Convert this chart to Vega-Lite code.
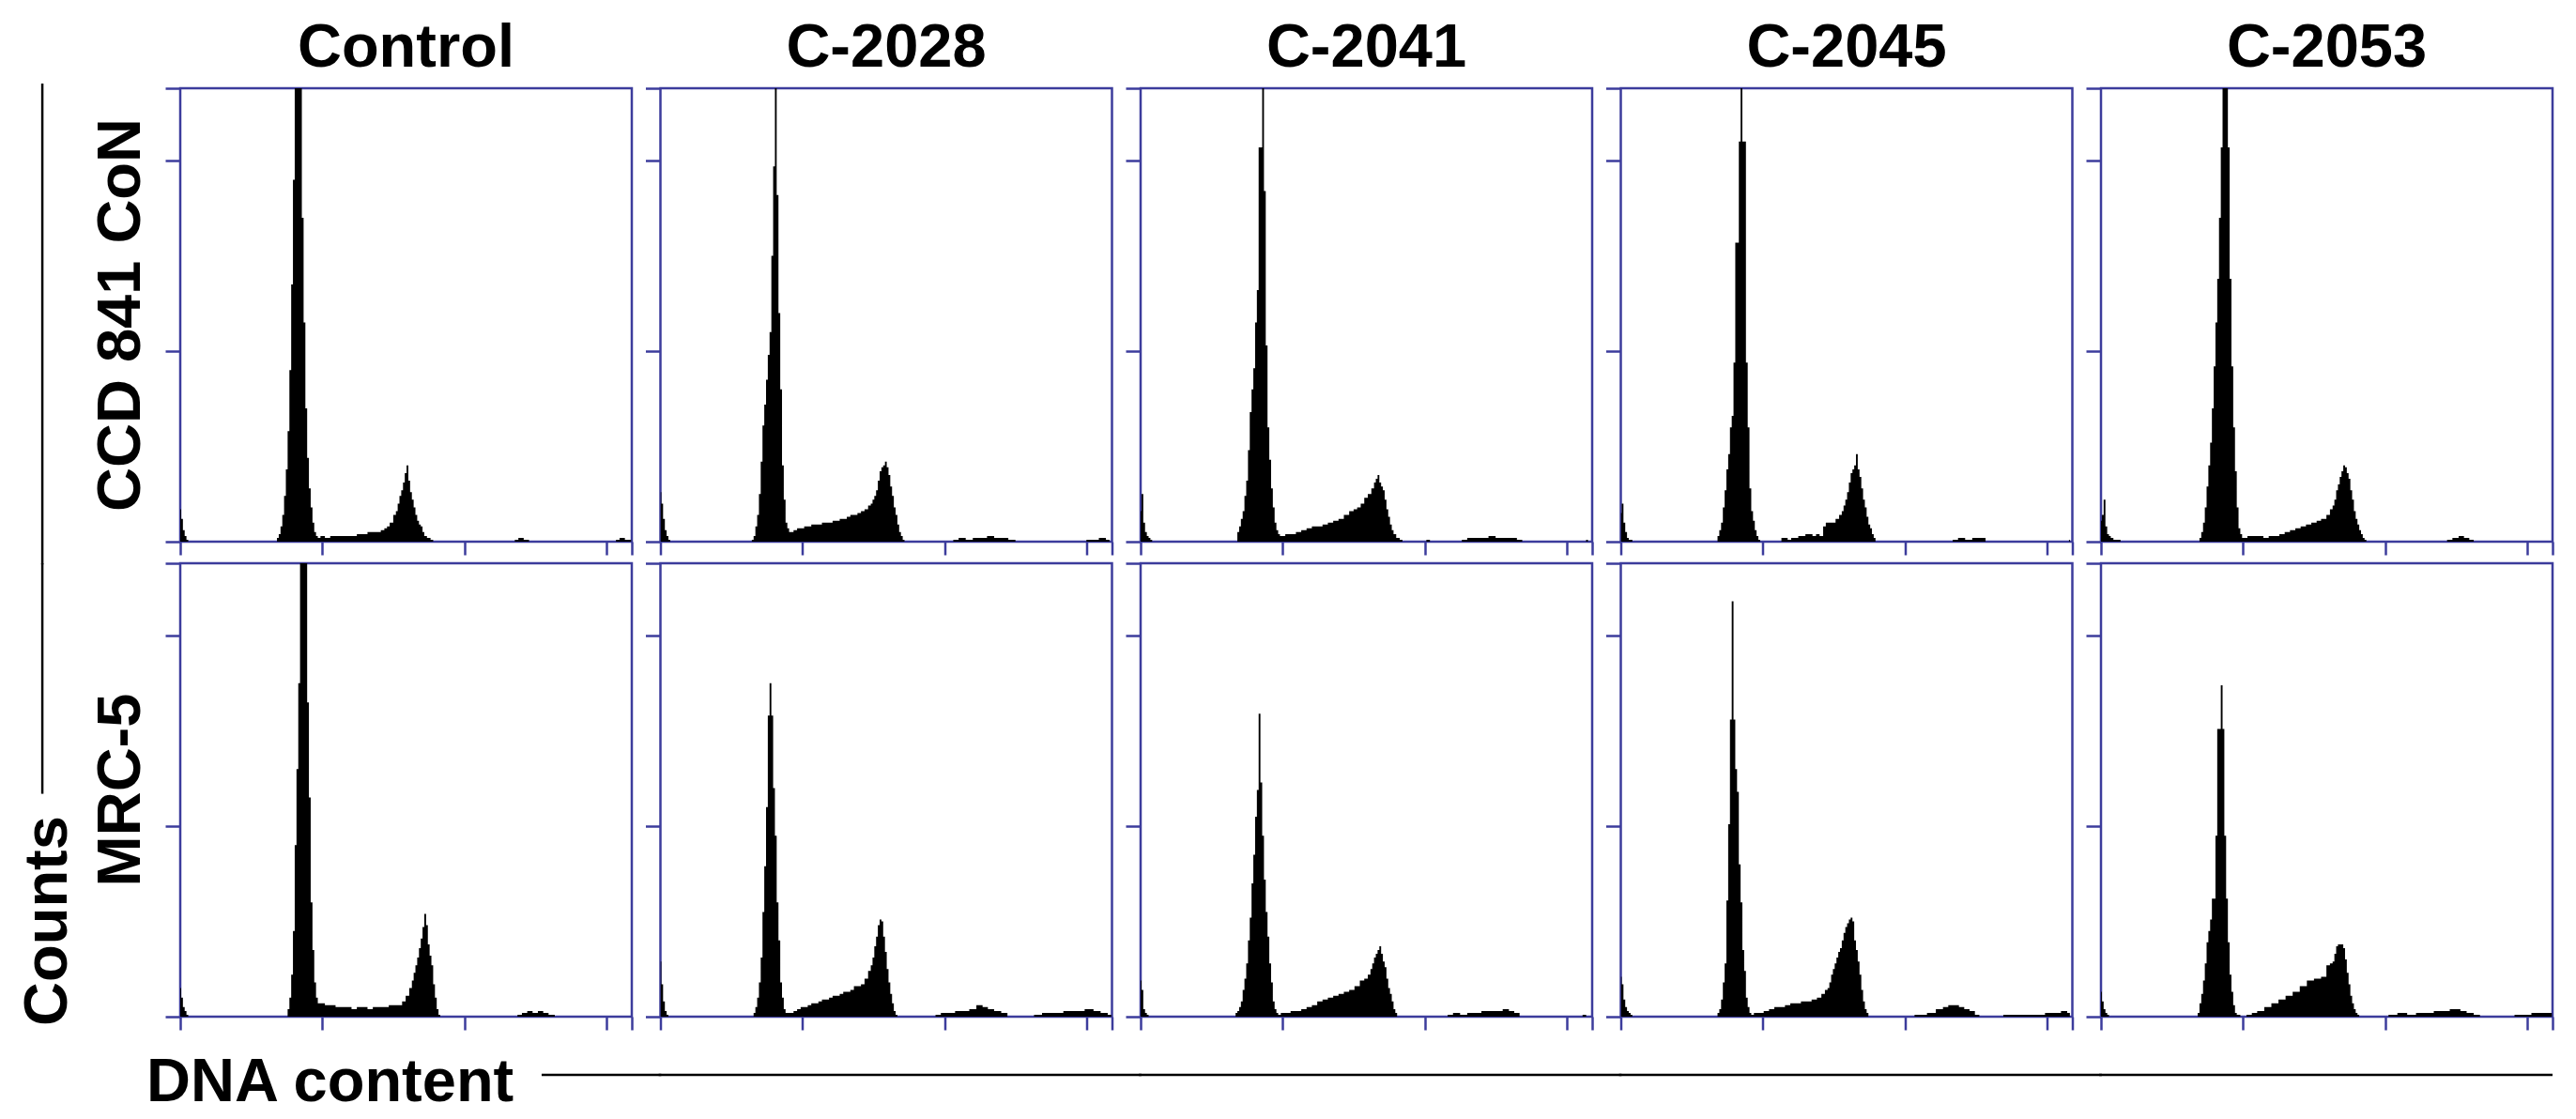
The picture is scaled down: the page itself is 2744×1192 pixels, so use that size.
{
"$schema":"https://vega.github.io/schema/vega-lite/v6.json",
"background":"white",
"padding":{"left":17,"top":19,"right":0,"bottom":0},
"autosize":{"type":"pad"},
"data":{"values":[
{"r":"C","c":"Control","x":0,"y":17},{"r":"C","c":"Control","x":1,"y":12},{"r":"C","c":"Control","x":2,"y":6},{"r":"C","c":"Control","x":3,"y":3},{"r":"C","c":"Control","x":4,"y":1},{"r":"C","c":"Control","x":5,"y":0},
{"r":"C","c":"Control","x":54,"y":0},{"r":"C","c":"Control","x":55,"y":2},{"r":"C","c":"Control","x":56,"y":4},{"r":"C","c":"Control","x":57,"y":8},{"r":"C","c":"Control","x":58,"y":14},{"r":"C","c":"Control","x":59,"y":24},{"r":"C","c":"Control","x":60,"y":38},{"r":"C","c":"Control","x":61,"y":58},{"r":"C","c":"Control","x":62,"y":90},{"r":"C","c":"Control","x":63,"y":135},{"r":"C","c":"Control","x":64,"y":190},{"r":"C","c":"Control","x":65,"y":260},{"r":"C","c":"Control","x":66,"y":320},{"r":"C","c":"Control","x":67,"y":320},{"r":"C","c":"Control","x":68,"y":250},{"r":"C","c":"Control","x":69,"y":170},{"r":"C","c":"Control","x":70,"y":115},{"r":"C","c":"Control","x":71,"y":70},{"r":"C","c":"Control","x":72,"y":44},{"r":"C","c":"Control","x":73,"y":28},{"r":"C","c":"Control","x":74,"y":18},{"r":"C","c":"Control","x":75,"y":10},{"r":"C","c":"Control","x":76,"y":5},{"r":"C","c":"Control","x":77,"y":3},
{"r":"C","c":"Control","x":78,"y":2},{"r":"C","c":"Control","x":80,"y":3},{"r":"C","c":"Control","x":83,"y":2},{"r":"C","c":"Control","x":86,"y":3},{"r":"C","c":"Control","x":89,"y":3},{"r":"C","c":"Control","x":92,"y":3},{"r":"C","c":"Control","x":95,"y":3},{"r":"C","c":"Control","x":98,"y":3},{"r":"C","c":"Control","x":101,"y":4},{"r":"C","c":"Control","x":104,"y":4},{"r":"C","c":"Control","x":107,"y":5},{"r":"C","c":"Control","x":110,"y":5},
{"r":"C","c":"Control","x":112,"y":5},{"r":"C","c":"Control","x":114,"y":6},{"r":"C","c":"Control","x":116,"y":7},{"r":"C","c":"Control","x":117,"y":8},{"r":"C","c":"Control","x":119,"y":10},{"r":"C","c":"Control","x":121,"y":14},{"r":"C","c":"Control","x":122,"y":16},{"r":"C","c":"Control","x":123,"y":20},{"r":"C","c":"Control","x":124,"y":24},{"r":"C","c":"Control","x":125,"y":27},{"r":"C","c":"Control","x":126,"y":31},{"r":"C","c":"Control","x":127,"y":36},{"r":"C","c":"Control","x":128,"y":40},{"r":"C","c":"Control","x":129,"y":32},{"r":"C","c":"Control","x":130,"y":26},{"r":"C","c":"Control","x":131,"y":22},{"r":"C","c":"Control","x":132,"y":18},{"r":"C","c":"Control","x":133,"y":14},{"r":"C","c":"Control","x":134,"y":11},{"r":"C","c":"Control","x":135,"y":9},{"r":"C","c":"Control","x":136,"y":8},{"r":"C","c":"Control","x":137,"y":5},{"r":"C","c":"Control","x":138,"y":3},{"r":"C","c":"Control","x":140,"y":2},{"r":"C","c":"Control","x":142,"y":1},{"r":"C","c":"Control","x":143,"y":0},
{"r":"C","c":"Control","x":188,"y":0},{"r":"C","c":"Control","x":189,"y":1},{"r":"C","c":"Control","x":192,"y":2},{"r":"C","c":"Control","x":195,"y":1},{"r":"C","c":"Control","x":198,"y":0},
{"r":"C","c":"Control","x":245,"y":0},{"r":"C","c":"Control","x":246,"y":1},{"r":"C","c":"Control","x":249,"y":2},{"r":"C","c":"Control","x":252,"y":1},{"r":"C","c":"Control","x":254,"y":1},

{"r":"M","c":"Control","x":0,"y":15},{"r":"M","c":"Control","x":1,"y":10},{"r":"M","c":"Control","x":2,"y":5},{"r":"M","c":"Control","x":3,"y":3},{"r":"M","c":"Control","x":4,"y":1},{"r":"M","c":"Control","x":5,"y":0},
{"r":"M","c":"Control","x":60,"y":0},{"r":"M","c":"Control","x":61,"y":4},{"r":"M","c":"Control","x":62,"y":10},{"r":"M","c":"Control","x":63,"y":22},{"r":"M","c":"Control","x":64,"y":45},{"r":"M","c":"Control","x":65,"y":90},{"r":"M","c":"Control","x":66,"y":130},{"r":"M","c":"Control","x":67,"y":175},{"r":"M","c":"Control","x":68,"y":240},{"r":"M","c":"Control","x":69,"y":300},{"r":"M","c":"Control","x":70,"y":300},{"r":"M","c":"Control","x":71,"y":240},{"r":"M","c":"Control","x":72,"y":165},{"r":"M","c":"Control","x":73,"y":115},{"r":"M","c":"Control","x":74,"y":60},{"r":"M","c":"Control","x":75,"y":35},{"r":"M","c":"Control","x":76,"y":18},{"r":"M","c":"Control","x":77,"y":10},{"r":"M","c":"Control","x":78,"y":7},
{"r":"M","c":"Control","x":80,"y":7},{"r":"M","c":"Control","x":83,"y":6},{"r":"M","c":"Control","x":86,"y":6},{"r":"M","c":"Control","x":89,"y":5},{"r":"M","c":"Control","x":92,"y":5},{"r":"M","c":"Control","x":95,"y":5},{"r":"M","c":"Control","x":98,"y":4},{"r":"M","c":"Control","x":101,"y":5},{"r":"M","c":"Control","x":104,"y":5},{"r":"M","c":"Control","x":107,"y":4},{"r":"M","c":"Control","x":110,"y":5},{"r":"M","c":"Control","x":113,"y":5},{"r":"M","c":"Control","x":116,"y":5},{"r":"M","c":"Control","x":119,"y":6},{"r":"M","c":"Control","x":122,"y":6},
{"r":"M","c":"Control","x":124,"y":6},{"r":"M","c":"Control","x":126,"y":8},{"r":"M","c":"Control","x":128,"y":11},{"r":"M","c":"Control","x":130,"y":15},{"r":"M","c":"Control","x":131,"y":19},{"r":"M","c":"Control","x":132,"y":23},{"r":"M","c":"Control","x":133,"y":27},{"r":"M","c":"Control","x":134,"y":31},{"r":"M","c":"Control","x":135,"y":36},{"r":"M","c":"Control","x":136,"y":41},{"r":"M","c":"Control","x":137,"y":47},{"r":"M","c":"Control","x":138,"y":54},{"r":"M","c":"Control","x":139,"y":48},{"r":"M","c":"Control","x":140,"y":38},{"r":"M","c":"Control","x":141,"y":32},{"r":"M","c":"Control","x":142,"y":27},{"r":"M","c":"Control","x":143,"y":17},{"r":"M","c":"Control","x":144,"y":10},{"r":"M","c":"Control","x":145,"y":4},{"r":"M","c":"Control","x":146,"y":1},{"r":"M","c":"Control","x":147,"y":0},
{"r":"M","c":"Control","x":189,"y":0},{"r":"M","c":"Control","x":191,"y":1},{"r":"M","c":"Control","x":194,"y":2},{"r":"M","c":"Control","x":197,"y":3},{"r":"M","c":"Control","x":200,"y":2},{"r":"M","c":"Control","x":203,"y":3},{"r":"M","c":"Control","x":206,"y":2},{"r":"M","c":"Control","x":209,"y":1},{"r":"M","c":"Control","x":213,"y":0},

{"r":"C","c":"C-2028","x":0,"y":26},{"r":"C","c":"C-2028","x":1,"y":20},{"r":"C","c":"C-2028","x":2,"y":12},{"r":"C","c":"C-2028","x":3,"y":6},{"r":"C","c":"C-2028","x":4,"y":3},{"r":"C","c":"C-2028","x":5,"y":1},{"r":"C","c":"C-2028","x":6,"y":0},
{"r":"C","c":"C-2028","x":51,"y":0},{"r":"C","c":"C-2028","x":52,"y":1},{"r":"C","c":"C-2028","x":53,"y":3},{"r":"C","c":"C-2028","x":54,"y":8},{"r":"C","c":"C-2028","x":55,"y":14},{"r":"C","c":"C-2028","x":56,"y":25},{"r":"C","c":"C-2028","x":57,"y":42},{"r":"C","c":"C-2028","x":58,"y":61},{"r":"C","c":"C-2028","x":59,"y":72},{"r":"C","c":"C-2028","x":60,"y":85},{"r":"C","c":"C-2028","x":61,"y":98},{"r":"C","c":"C-2028","x":62,"y":110},{"r":"C","c":"C-2028","x":63,"y":150},{"r":"C","c":"C-2028","x":64,"y":197},{"r":"C","c":"C-2028","x":65,"y":300},{"r":"C","c":"C-2028","x":66,"y":182},{"r":"C","c":"C-2028","x":67,"y":120},{"r":"C","c":"C-2028","x":68,"y":80},{"r":"C","c":"C-2028","x":69,"y":40},{"r":"C","c":"C-2028","x":70,"y":22},{"r":"C","c":"C-2028","x":71,"y":10},{"r":"C","c":"C-2028","x":72,"y":7},{"r":"C","c":"C-2028","x":73,"y":5},
{"r":"C","c":"C-2028","x":74,"y":5},{"r":"C","c":"C-2028","x":76,"y":6},{"r":"C","c":"C-2028","x":78,"y":7},{"r":"C","c":"C-2028","x":80,"y":7},{"r":"C","c":"C-2028","x":82,"y":8},{"r":"C","c":"C-2028","x":84,"y":8},{"r":"C","c":"C-2028","x":86,"y":9},{"r":"C","c":"C-2028","x":88,"y":9},{"r":"C","c":"C-2028","x":90,"y":9},{"r":"C","c":"C-2028","x":92,"y":10},{"r":"C","c":"C-2028","x":94,"y":10},{"r":"C","c":"C-2028","x":96,"y":10},{"r":"C","c":"C-2028","x":98,"y":11},{"r":"C","c":"C-2028","x":100,"y":11},{"r":"C","c":"C-2028","x":102,"y":12},{"r":"C","c":"C-2028","x":104,"y":12},{"r":"C","c":"C-2028","x":106,"y":13},{"r":"C","c":"C-2028","x":108,"y":14},{"r":"C","c":"C-2028","x":110,"y":14},
{"r":"C","c":"C-2028","x":112,"y":15},{"r":"C","c":"C-2028","x":114,"y":16},{"r":"C","c":"C-2028","x":116,"y":17},{"r":"C","c":"C-2028","x":118,"y":19},{"r":"C","c":"C-2028","x":119,"y":20},{"r":"C","c":"C-2028","x":120,"y":22},{"r":"C","c":"C-2028","x":121,"y":24},{"r":"C","c":"C-2028","x":122,"y":27},{"r":"C","c":"C-2028","x":123,"y":32},{"r":"C","c":"C-2028","x":124,"y":37},{"r":"C","c":"C-2028","x":125,"y":39},{"r":"C","c":"C-2028","x":126,"y":40},{"r":"C","c":"C-2028","x":127,"y":42},{"r":"C","c":"C-2028","x":128,"y":39},{"r":"C","c":"C-2028","x":129,"y":35},{"r":"C","c":"C-2028","x":130,"y":29},{"r":"C","c":"C-2028","x":131,"y":24},{"r":"C","c":"C-2028","x":132,"y":18},{"r":"C","c":"C-2028","x":133,"y":14},{"r":"C","c":"C-2028","x":134,"y":9},{"r":"C","c":"C-2028","x":135,"y":5},{"r":"C","c":"C-2028","x":136,"y":3},{"r":"C","c":"C-2028","x":137,"y":1},{"r":"C","c":"C-2028","x":138,"y":0},
{"r":"C","c":"C-2028","x":164,"y":0},{"r":"C","c":"C-2028","x":166,"y":1},{"r":"C","c":"C-2028","x":170,"y":2},{"r":"C","c":"C-2028","x":174,"y":1},{"r":"C","c":"C-2028","x":178,"y":2},{"r":"C","c":"C-2028","x":182,"y":2},{"r":"C","c":"C-2028","x":186,"y":3},{"r":"C","c":"C-2028","x":190,"y":2},{"r":"C","c":"C-2028","x":194,"y":2},{"r":"C","c":"C-2028","x":198,"y":1},{"r":"C","c":"C-2028","x":202,"y":0},
{"r":"C","c":"C-2028","x":239,"y":0},{"r":"C","c":"C-2028","x":241,"y":1},{"r":"C","c":"C-2028","x":245,"y":1},{"r":"C","c":"C-2028","x":249,"y":2},{"r":"C","c":"C-2028","x":253,"y":1},

{"r":"M","c":"C-2028","x":0,"y":29},{"r":"M","c":"C-2028","x":1,"y":17},{"r":"M","c":"C-2028","x":2,"y":8},{"r":"M","c":"C-2028","x":3,"y":3},{"r":"M","c":"C-2028","x":4,"y":1},{"r":"M","c":"C-2028","x":5,"y":0},
{"r":"M","c":"C-2028","x":52,"y":0},{"r":"M","c":"C-2028","x":53,"y":2},{"r":"M","c":"C-2028","x":54,"y":5},{"r":"M","c":"C-2028","x":55,"y":10},{"r":"M","c":"C-2028","x":56,"y":18},{"r":"M","c":"C-2028","x":57,"y":31},{"r":"M","c":"C-2028","x":58,"y":55},{"r":"M","c":"C-2028","x":59,"y":79},{"r":"M","c":"C-2028","x":60,"y":110},{"r":"M","c":"C-2028","x":61,"y":158},{"r":"M","c":"C-2028","x":62,"y":175},{"r":"M","c":"C-2028","x":63,"y":158},{"r":"M","c":"C-2028","x":64,"y":120},{"r":"M","c":"C-2028","x":65,"y":95},{"r":"M","c":"C-2028","x":66,"y":60},{"r":"M","c":"C-2028","x":67,"y":40},{"r":"M","c":"C-2028","x":68,"y":18},{"r":"M","c":"C-2028","x":69,"y":10},{"r":"M","c":"C-2028","x":70,"y":4},{"r":"M","c":"C-2028","x":71,"y":2},
{"r":"M","c":"C-2028","x":72,"y":2},{"r":"M","c":"C-2028","x":74,"y":2},{"r":"M","c":"C-2028","x":76,"y":3},{"r":"M","c":"C-2028","x":78,"y":4},{"r":"M","c":"C-2028","x":80,"y":5},{"r":"M","c":"C-2028","x":82,"y":5},{"r":"M","c":"C-2028","x":84,"y":6},{"r":"M","c":"C-2028","x":86,"y":7},{"r":"M","c":"C-2028","x":88,"y":7},{"r":"M","c":"C-2028","x":90,"y":8},{"r":"M","c":"C-2028","x":92,"y":9},{"r":"M","c":"C-2028","x":94,"y":9},{"r":"M","c":"C-2028","x":96,"y":10},{"r":"M","c":"C-2028","x":98,"y":11},{"r":"M","c":"C-2028","x":100,"y":11},{"r":"M","c":"C-2028","x":102,"y":12},{"r":"M","c":"C-2028","x":104,"y":13},{"r":"M","c":"C-2028","x":106,"y":13},{"r":"M","c":"C-2028","x":108,"y":14},{"r":"M","c":"C-2028","x":110,"y":16},
{"r":"M","c":"C-2028","x":112,"y":16},{"r":"M","c":"C-2028","x":114,"y":17},{"r":"M","c":"C-2028","x":116,"y":20},{"r":"M","c":"C-2028","x":118,"y":24},{"r":"M","c":"C-2028","x":119,"y":27},{"r":"M","c":"C-2028","x":120,"y":31},{"r":"M","c":"C-2028","x":121,"y":37},{"r":"M","c":"C-2028","x":122,"y":42},{"r":"M","c":"C-2028","x":123,"y":48},{"r":"M","c":"C-2028","x":124,"y":51},{"r":"M","c":"C-2028","x":125,"y":50},{"r":"M","c":"C-2028","x":126,"y":42},{"r":"M","c":"C-2028","x":127,"y":34},{"r":"M","c":"C-2028","x":128,"y":25},{"r":"M","c":"C-2028","x":129,"y":18},{"r":"M","c":"C-2028","x":130,"y":12},{"r":"M","c":"C-2028","x":131,"y":7},{"r":"M","c":"C-2028","x":132,"y":3},{"r":"M","c":"C-2028","x":133,"y":1},{"r":"M","c":"C-2028","x":134,"y":0},
{"r":"M","c":"C-2028","x":154,"y":0},{"r":"M","c":"C-2028","x":156,"y":1},{"r":"M","c":"C-2028","x":160,"y":2},{"r":"M","c":"C-2028","x":164,"y":2},{"r":"M","c":"C-2028","x":168,"y":3},{"r":"M","c":"C-2028","x":172,"y":3},{"r":"M","c":"C-2028","x":176,"y":4},{"r":"M","c":"C-2028","x":180,"y":6},{"r":"M","c":"C-2028","x":183,"y":5},{"r":"M","c":"C-2028","x":186,"y":4},{"r":"M","c":"C-2028","x":190,"y":3},{"r":"M","c":"C-2028","x":194,"y":2},{"r":"M","c":"C-2028","x":197,"y":0},
{"r":"M","c":"C-2028","x":209,"y":0},{"r":"M","c":"C-2028","x":212,"y":1},{"r":"M","c":"C-2028","x":218,"y":2},{"r":"M","c":"C-2028","x":224,"y":2},{"r":"M","c":"C-2028","x":230,"y":3},{"r":"M","c":"C-2028","x":236,"y":3},{"r":"M","c":"C-2028","x":242,"y":4},{"r":"M","c":"C-2028","x":246,"y":3},{"r":"M","c":"C-2028","x":250,"y":2},{"r":"M","c":"C-2028","x":254,"y":1},

{"r":"C","c":"C-2041","x":0,"y":16},{"r":"C","c":"C-2041","x":1,"y":25},{"r":"C","c":"C-2041","x":2,"y":10},{"r":"C","c":"C-2041","x":3,"y":5},{"r":"C","c":"C-2041","x":4,"y":3},{"r":"C","c":"C-2041","x":5,"y":2},{"r":"C","c":"C-2041","x":6,"y":1},{"r":"C","c":"C-2041","x":7,"y":0},
{"r":"C","c":"C-2041","x":54,"y":0},{"r":"C","c":"C-2041","x":55,"y":5},{"r":"C","c":"C-2041","x":56,"y":8},{"r":"C","c":"C-2041","x":57,"y":12},{"r":"C","c":"C-2041","x":58,"y":16},{"r":"C","c":"C-2041","x":59,"y":24},{"r":"C","c":"C-2041","x":60,"y":32},{"r":"C","c":"C-2041","x":61,"y":48},{"r":"C","c":"C-2041","x":62,"y":68},{"r":"C","c":"C-2041","x":63,"y":80},{"r":"C","c":"C-2041","x":64,"y":91},{"r":"C","c":"C-2041","x":65,"y":115},{"r":"C","c":"C-2041","x":66,"y":132},{"r":"C","c":"C-2041","x":67,"y":207},{"r":"C","c":"C-2041","x":68,"y":207},{"r":"C","c":"C-2041","x":69,"y":300},{"r":"C","c":"C-2041","x":70,"y":184},{"r":"C","c":"C-2041","x":71,"y":103},{"r":"C","c":"C-2041","x":72,"y":60},{"r":"C","c":"C-2041","x":73,"y":43},{"r":"C","c":"C-2041","x":74,"y":28},{"r":"C","c":"C-2041","x":75,"y":18},{"r":"C","c":"C-2041","x":76,"y":10},{"r":"C","c":"C-2041","x":77,"y":6},{"r":"C","c":"C-2041","x":78,"y":4},{"r":"C","c":"C-2041","x":79,"y":3},
{"r":"C","c":"C-2041","x":80,"y":3},{"r":"C","c":"C-2041","x":83,"y":4},{"r":"C","c":"C-2041","x":86,"y":4},{"r":"C","c":"C-2041","x":89,"y":5},{"r":"C","c":"C-2041","x":92,"y":6},{"r":"C","c":"C-2041","x":95,"y":7},{"r":"C","c":"C-2041","x":98,"y":8},{"r":"C","c":"C-2041","x":101,"y":8},{"r":"C","c":"C-2041","x":104,"y":9},{"r":"C","c":"C-2041","x":107,"y":10},{"r":"C","c":"C-2041","x":110,"y":11},{"r":"C","c":"C-2041","x":113,"y":12},{"r":"C","c":"C-2041","x":116,"y":14},{"r":"C","c":"C-2041","x":119,"y":16},
{"r":"C","c":"C-2041","x":121,"y":17},{"r":"C","c":"C-2041","x":123,"y":18},{"r":"C","c":"C-2041","x":125,"y":20},{"r":"C","c":"C-2041","x":127,"y":23},{"r":"C","c":"C-2041","x":129,"y":25},{"r":"C","c":"C-2041","x":131,"y":28},{"r":"C","c":"C-2041","x":132,"y":31},{"r":"C","c":"C-2041","x":133,"y":33},{"r":"C","c":"C-2041","x":134,"y":35},{"r":"C","c":"C-2041","x":135,"y":31},{"r":"C","c":"C-2041","x":136,"y":29},{"r":"C","c":"C-2041","x":137,"y":27},{"r":"C","c":"C-2041","x":138,"y":22},{"r":"C","c":"C-2041","x":139,"y":17},{"r":"C","c":"C-2041","x":140,"y":13},{"r":"C","c":"C-2041","x":141,"y":9},{"r":"C","c":"C-2041","x":142,"y":6},{"r":"C","c":"C-2041","x":143,"y":4},{"r":"C","c":"C-2041","x":145,"y":2},{"r":"C","c":"C-2041","x":147,"y":1},{"r":"C","c":"C-2041","x":148,"y":0},
{"r":"C","c":"C-2041","x":160,"y":0},{"r":"C","c":"C-2041","x":162,"y":1},{"r":"C","c":"C-2041","x":164,"y":0},
{"r":"C","c":"C-2041","x":180,"y":0},{"r":"C","c":"C-2041","x":182,"y":1},{"r":"C","c":"C-2041","x":186,"y":2},{"r":"C","c":"C-2041","x":190,"y":2},{"r":"C","c":"C-2041","x":194,"y":2},{"r":"C","c":"C-2041","x":198,"y":3},{"r":"C","c":"C-2041","x":202,"y":2},{"r":"C","c":"C-2041","x":206,"y":2},{"r":"C","c":"C-2041","x":210,"y":2},{"r":"C","c":"C-2041","x":214,"y":1},{"r":"C","c":"C-2041","x":216,"y":0},
{"r":"C","c":"C-2041","x":250,"y":0},{"r":"C","c":"C-2041","x":252,"y":1},

{"r":"M","c":"C-2041","x":0,"y":19},{"r":"M","c":"C-2041","x":1,"y":14},{"r":"M","c":"C-2041","x":2,"y":4},{"r":"M","c":"C-2041","x":3,"y":2},{"r":"M","c":"C-2041","x":4,"y":1},{"r":"M","c":"C-2041","x":5,"y":0},
{"r":"M","c":"C-2041","x":53,"y":0},{"r":"M","c":"C-2041","x":54,"y":2},{"r":"M","c":"C-2041","x":55,"y":3},{"r":"M","c":"C-2041","x":56,"y":5},{"r":"M","c":"C-2041","x":57,"y":8},{"r":"M","c":"C-2041","x":58,"y":14},{"r":"M","c":"C-2041","x":59,"y":20},{"r":"M","c":"C-2041","x":60,"y":28},{"r":"M","c":"C-2041","x":61,"y":40},{"r":"M","c":"C-2041","x":62,"y":52},{"r":"M","c":"C-2041","x":63,"y":70},{"r":"M","c":"C-2041","x":64,"y":85},{"r":"M","c":"C-2041","x":65,"y":105},{"r":"M","c":"C-2041","x":66,"y":119},{"r":"M","c":"C-2041","x":67,"y":159},{"r":"M","c":"C-2041","x":68,"y":123},{"r":"M","c":"C-2041","x":69,"y":95},{"r":"M","c":"C-2041","x":70,"y":72},{"r":"M","c":"C-2041","x":71,"y":55},{"r":"M","c":"C-2041","x":72,"y":42},{"r":"M","c":"C-2041","x":73,"y":28},{"r":"M","c":"C-2041","x":74,"y":18},{"r":"M","c":"C-2041","x":75,"y":8},{"r":"M","c":"C-2041","x":76,"y":4},{"r":"M","c":"C-2041","x":77,"y":2},
{"r":"M","c":"C-2041","x":78,"y":1},{"r":"M","c":"C-2041","x":80,"y":2},{"r":"M","c":"C-2041","x":83,"y":2},{"r":"M","c":"C-2041","x":86,"y":3},{"r":"M","c":"C-2041","x":89,"y":3},{"r":"M","c":"C-2041","x":92,"y":4},{"r":"M","c":"C-2041","x":95,"y":5},{"r":"M","c":"C-2041","x":98,"y":6},{"r":"M","c":"C-2041","x":101,"y":8},{"r":"M","c":"C-2041","x":104,"y":9},{"r":"M","c":"C-2041","x":107,"y":10},{"r":"M","c":"C-2041","x":110,"y":11},{"r":"M","c":"C-2041","x":113,"y":12},{"r":"M","c":"C-2041","x":116,"y":13},{"r":"M","c":"C-2041","x":119,"y":14},{"r":"M","c":"C-2041","x":122,"y":16},{"r":"M","c":"C-2041","x":125,"y":19},
{"r":"M","c":"C-2041","x":127,"y":20},{"r":"M","c":"C-2041","x":129,"y":22},{"r":"M","c":"C-2041","x":130,"y":25},{"r":"M","c":"C-2041","x":131,"y":28},{"r":"M","c":"C-2041","x":132,"y":31},{"r":"M","c":"C-2041","x":133,"y":33},{"r":"M","c":"C-2041","x":134,"y":35},{"r":"M","c":"C-2041","x":135,"y":37},{"r":"M","c":"C-2041","x":136,"y":33},{"r":"M","c":"C-2041","x":137,"y":29},{"r":"M","c":"C-2041","x":138,"y":26},{"r":"M","c":"C-2041","x":139,"y":20},{"r":"M","c":"C-2041","x":140,"y":15},{"r":"M","c":"C-2041","x":141,"y":12},{"r":"M","c":"C-2041","x":142,"y":8},{"r":"M","c":"C-2041","x":143,"y":4},{"r":"M","c":"C-2041","x":144,"y":2},{"r":"M","c":"C-2041","x":145,"y":0},
{"r":"M","c":"C-2041","x":172,"y":0},{"r":"M","c":"C-2041","x":174,"y":1},{"r":"M","c":"C-2041","x":178,"y":2},{"r":"M","c":"C-2041","x":182,"y":1},{"r":"M","c":"C-2041","x":186,"y":2},{"r":"M","c":"C-2041","x":190,"y":2},{"r":"M","c":"C-2041","x":194,"y":3},{"r":"M","c":"C-2041","x":198,"y":3},{"r":"M","c":"C-2041","x":202,"y":3},{"r":"M","c":"C-2041","x":206,"y":4},{"r":"M","c":"C-2041","x":209,"y":3},{"r":"M","c":"C-2041","x":212,"y":2},{"r":"M","c":"C-2041","x":215,"y":0},
{"r":"M","c":"C-2041","x":248,"y":0},{"r":"M","c":"C-2041","x":250,"y":1},{"r":"M","c":"C-2041","x":252,"y":0},

{"r":"C","c":"C-2045","x":0,"y":15},{"r":"C","c":"C-2045","x":1,"y":20},{"r":"C","c":"C-2045","x":2,"y":10},{"r":"C","c":"C-2045","x":3,"y":5},{"r":"C","c":"C-2045","x":4,"y":2},{"r":"C","c":"C-2045","x":5,"y":1},{"r":"C","c":"C-2045","x":6,"y":1},{"r":"C","c":"C-2045","x":7,"y":0},
{"r":"C","c":"C-2045","x":54,"y":0},{"r":"C","c":"C-2045","x":55,"y":3},{"r":"C","c":"C-2045","x":56,"y":6},{"r":"C","c":"C-2045","x":57,"y":10},{"r":"C","c":"C-2045","x":58,"y":18},{"r":"C","c":"C-2045","x":59,"y":27},{"r":"C","c":"C-2045","x":60,"y":38},{"r":"C","c":"C-2045","x":61,"y":46},{"r":"C","c":"C-2045","x":62,"y":60},{"r":"C","c":"C-2045","x":63,"y":66},{"r":"C","c":"C-2045","x":64,"y":94},{"r":"C","c":"C-2045","x":65,"y":157},{"r":"C","c":"C-2045","x":66,"y":157},{"r":"C","c":"C-2045","x":67,"y":210},{"r":"C","c":"C-2045","x":68,"y":300},{"r":"C","c":"C-2045","x":69,"y":210},{"r":"C","c":"C-2045","x":70,"y":210},{"r":"C","c":"C-2045","x":71,"y":94},{"r":"C","c":"C-2045","x":72,"y":60},{"r":"C","c":"C-2045","x":73,"y":28},{"r":"C","c":"C-2045","x":74,"y":16},{"r":"C","c":"C-2045","x":75,"y":11},{"r":"C","c":"C-2045","x":76,"y":6},{"r":"C","c":"C-2045","x":77,"y":3},{"r":"C","c":"C-2045","x":78,"y":1},{"r":"C","c":"C-2045","x":79,"y":0},
{"r":"C","c":"C-2045","x":90,"y":0},{"r":"C","c":"C-2045","x":91,"y":2},{"r":"C","c":"C-2045","x":93,"y":2},{"r":"C","c":"C-2045","x":95,"y":1},{"r":"C","c":"C-2045","x":97,"y":2},{"r":"C","c":"C-2045","x":99,"y":2},{"r":"C","c":"C-2045","x":101,"y":3},{"r":"C","c":"C-2045","x":103,"y":3},{"r":"C","c":"C-2045","x":105,"y":4},{"r":"C","c":"C-2045","x":107,"y":4},{"r":"C","c":"C-2045","x":109,"y":3},{"r":"C","c":"C-2045","x":111,"y":4},{"r":"C","c":"C-2045","x":113,"y":3},
{"r":"C","c":"C-2045","x":115,"y":8},{"r":"C","c":"C-2045","x":116,"y":10},{"r":"C","c":"C-2045","x":118,"y":10},{"r":"C","c":"C-2045","x":120,"y":10},{"r":"C","c":"C-2045","x":122,"y":12},{"r":"C","c":"C-2045","x":124,"y":14},{"r":"C","c":"C-2045","x":125,"y":16},{"r":"C","c":"C-2045","x":126,"y":19},{"r":"C","c":"C-2045","x":127,"y":22},{"r":"C","c":"C-2045","x":128,"y":26},{"r":"C","c":"C-2045","x":129,"y":31},{"r":"C","c":"C-2045","x":130,"y":36},{"r":"C","c":"C-2045","x":131,"y":38},{"r":"C","c":"C-2045","x":132,"y":40},{"r":"C","c":"C-2045","x":133,"y":46},{"r":"C","c":"C-2045","x":134,"y":38},{"r":"C","c":"C-2045","x":135,"y":34},{"r":"C","c":"C-2045","x":136,"y":28},{"r":"C","c":"C-2045","x":137,"y":22},{"r":"C","c":"C-2045","x":138,"y":18},{"r":"C","c":"C-2045","x":139,"y":13},{"r":"C","c":"C-2045","x":140,"y":9},{"r":"C","c":"C-2045","x":141,"y":7},{"r":"C","c":"C-2045","x":142,"y":4},{"r":"C","c":"C-2045","x":143,"y":2},{"r":"C","c":"C-2045","x":144,"y":0},
{"r":"C","c":"C-2045","x":186,"y":0},{"r":"C","c":"C-2045","x":188,"y":1},{"r":"C","c":"C-2045","x":192,"y":2},{"r":"C","c":"C-2045","x":196,"y":1},{"r":"C","c":"C-2045","x":200,"y":2},{"r":"C","c":"C-2045","x":204,"y":2},{"r":"C","c":"C-2045","x":207,"y":0},
{"r":"C","c":"C-2045","x":252,"y":0},{"r":"C","c":"C-2045","x":253,"y":1},

{"r":"M","c":"C-2045","x":0,"y":21},{"r":"M","c":"C-2045","x":1,"y":17},{"r":"M","c":"C-2045","x":2,"y":9},{"r":"M","c":"C-2045","x":3,"y":5},{"r":"M","c":"C-2045","x":4,"y":3},{"r":"M","c":"C-2045","x":5,"y":2},{"r":"M","c":"C-2045","x":6,"y":1},{"r":"M","c":"C-2045","x":7,"y":0},
{"r":"M","c":"C-2045","x":54,"y":0},{"r":"M","c":"C-2045","x":55,"y":2},{"r":"M","c":"C-2045","x":56,"y":4},{"r":"M","c":"C-2045","x":57,"y":9},{"r":"M","c":"C-2045","x":58,"y":18},{"r":"M","c":"C-2045","x":59,"y":28},{"r":"M","c":"C-2045","x":60,"y":61},{"r":"M","c":"C-2045","x":61,"y":101},{"r":"M","c":"C-2045","x":62,"y":156},{"r":"M","c":"C-2045","x":63,"y":218},{"r":"M","c":"C-2045","x":64,"y":156},{"r":"M","c":"C-2045","x":65,"y":130},{"r":"M","c":"C-2045","x":66,"y":118},{"r":"M","c":"C-2045","x":67,"y":80},{"r":"M","c":"C-2045","x":68,"y":60},{"r":"M","c":"C-2045","x":69,"y":35},{"r":"M","c":"C-2045","x":70,"y":24},{"r":"M","c":"C-2045","x":71,"y":10},{"r":"M","c":"C-2045","x":72,"y":5},{"r":"M","c":"C-2045","x":73,"y":2},
{"r":"M","c":"C-2045","x":74,"y":1},{"r":"M","c":"C-2045","x":76,"y":2},{"r":"M","c":"C-2045","x":79,"y":2},{"r":"M","c":"C-2045","x":82,"y":3},{"r":"M","c":"C-2045","x":85,"y":4},{"r":"M","c":"C-2045","x":88,"y":5},{"r":"M","c":"C-2045","x":91,"y":5},{"r":"M","c":"C-2045","x":94,"y":6},{"r":"M","c":"C-2045","x":97,"y":7},{"r":"M","c":"C-2045","x":100,"y":7},{"r":"M","c":"C-2045","x":103,"y":8},{"r":"M","c":"C-2045","x":106,"y":8},{"r":"M","c":"C-2045","x":109,"y":9},{"r":"M","c":"C-2045","x":112,"y":10},{"r":"M","c":"C-2045","x":114,"y":12},{"r":"M","c":"C-2045","x":116,"y":14},
{"r":"M","c":"C-2045","x":117,"y":15},{"r":"M","c":"C-2045","x":118,"y":18},{"r":"M","c":"C-2045","x":119,"y":22},{"r":"M","c":"C-2045","x":120,"y":25},{"r":"M","c":"C-2045","x":121,"y":28},{"r":"M","c":"C-2045","x":122,"y":31},{"r":"M","c":"C-2045","x":123,"y":34},{"r":"M","c":"C-2045","x":124,"y":36},{"r":"M","c":"C-2045","x":125,"y":40},{"r":"M","c":"C-2045","x":126,"y":44},{"r":"M","c":"C-2045","x":127,"y":47},{"r":"M","c":"C-2045","x":128,"y":49},{"r":"M","c":"C-2045","x":129,"y":51},{"r":"M","c":"C-2045","x":130,"y":52},{"r":"M","c":"C-2045","x":131,"y":50},{"r":"M","c":"C-2045","x":132,"y":40},{"r":"M","c":"C-2045","x":133,"y":35},{"r":"M","c":"C-2045","x":134,"y":29},{"r":"M","c":"C-2045","x":135,"y":22},{"r":"M","c":"C-2045","x":136,"y":14},{"r":"M","c":"C-2045","x":137,"y":8},{"r":"M","c":"C-2045","x":138,"y":4},{"r":"M","c":"C-2045","x":139,"y":2},{"r":"M","c":"C-2045","x":140,"y":0},
{"r":"M","c":"C-2045","x":165,"y":0},{"r":"M","c":"C-2045","x":166,"y":1},{"r":"M","c":"C-2045","x":170,"y":1},{"r":"M","c":"C-2045","x":175,"y":2},{"r":"M","c":"C-2045","x":180,"y":4},{"r":"M","c":"C-2045","x":183,"y":5},{"r":"M","c":"C-2045","x":186,"y":6},{"r":"M","c":"C-2045","x":189,"y":6},{"r":"M","c":"C-2045","x":192,"y":5},{"r":"M","c":"C-2045","x":195,"y":4},{"r":"M","c":"C-2045","x":198,"y":3},{"r":"M","c":"C-2045","x":201,"y":1},{"r":"M","c":"C-2045","x":203,"y":0},
{"r":"M","c":"C-2045","x":215,"y":0},{"r":"M","c":"C-2045","x":216,"y":1},{"r":"M","c":"C-2045","x":220,"y":1},{"r":"M","c":"C-2045","x":226,"y":1},{"r":"M","c":"C-2045","x":232,"y":1},{"r":"M","c":"C-2045","x":236,"y":1},{"r":"M","c":"C-2045","x":242,"y":2},{"r":"M","c":"C-2045","x":246,"y":2},{"r":"M","c":"C-2045","x":250,"y":3},{"r":"M","c":"C-2045","x":253,"y":2},

{"r":"C","c":"C-2053","x":0,"y":11},{"r":"C","c":"C-2053","x":1,"y":14},{"r":"C","c":"C-2053","x":2,"y":22},{"r":"C","c":"C-2053","x":3,"y":8},{"r":"C","c":"C-2053","x":4,"y":4},{"r":"C","c":"C-2053","x":5,"y":3},{"r":"C","c":"C-2053","x":6,"y":2},{"r":"C","c":"C-2053","x":8,"y":1},{"r":"C","c":"C-2053","x":10,"y":1},{"r":"C","c":"C-2053","x":12,"y":0},
{"r":"C","c":"C-2053","x":55,"y":0},{"r":"C","c":"C-2053","x":56,"y":2},{"r":"C","c":"C-2053","x":57,"y":5},{"r":"C","c":"C-2053","x":58,"y":10},{"r":"C","c":"C-2053","x":59,"y":18},{"r":"C","c":"C-2053","x":60,"y":29},{"r":"C","c":"C-2053","x":61,"y":40},{"r":"C","c":"C-2053","x":62,"y":52},{"r":"C","c":"C-2053","x":63,"y":70},{"r":"C","c":"C-2053","x":64,"y":92},{"r":"C","c":"C-2053","x":65,"y":115},{"r":"C","c":"C-2053","x":66,"y":138},{"r":"C","c":"C-2053","x":67,"y":170},{"r":"C","c":"C-2053","x":68,"y":207},{"r":"C","c":"C-2053","x":69,"y":260},{"r":"C","c":"C-2053","x":70,"y":300},{"r":"C","c":"C-2053","x":71,"y":240},{"r":"C","c":"C-2053","x":72,"y":207},{"r":"C","c":"C-2053","x":73,"y":138},{"r":"C","c":"C-2053","x":74,"y":92},{"r":"C","c":"C-2053","x":75,"y":60},{"r":"C","c":"C-2053","x":76,"y":37},{"r":"C","c":"C-2053","x":77,"y":18},{"r":"C","c":"C-2053","x":78,"y":7},{"r":"C","c":"C-2053","x":79,"y":4},{"r":"C","c":"C-2053","x":80,"y":2},
{"r":"C","c":"C-2053","x":81,"y":2},{"r":"C","c":"C-2053","x":84,"y":3},{"r":"C","c":"C-2053","x":87,"y":3},{"r":"C","c":"C-2053","x":90,"y":3},{"r":"C","c":"C-2053","x":93,"y":2},{"r":"C","c":"C-2053","x":96,"y":3},{"r":"C","c":"C-2053","x":99,"y":3},{"r":"C","c":"C-2053","x":102,"y":4},{"r":"C","c":"C-2053","x":105,"y":5},{"r":"C","c":"C-2053","x":108,"y":6},{"r":"C","c":"C-2053","x":111,"y":7},{"r":"C","c":"C-2053","x":114,"y":8},{"r":"C","c":"C-2053","x":117,"y":9},{"r":"C","c":"C-2053","x":120,"y":10},{"r":"C","c":"C-2053","x":123,"y":11},{"r":"C","c":"C-2053","x":125,"y":12},
{"r":"C","c":"C-2053","x":126,"y":12},{"r":"C","c":"C-2053","x":128,"y":14},{"r":"C","c":"C-2053","x":130,"y":17},{"r":"C","c":"C-2053","x":131,"y":19},{"r":"C","c":"C-2053","x":132,"y":22},{"r":"C","c":"C-2053","x":133,"y":27},{"r":"C","c":"C-2053","x":134,"y":30},{"r":"C","c":"C-2053","x":135,"y":34},{"r":"C","c":"C-2053","x":136,"y":37},{"r":"C","c":"C-2053","x":137,"y":40},{"r":"C","c":"C-2053","x":138,"y":39},{"r":"C","c":"C-2053","x":139,"y":36},{"r":"C","c":"C-2053","x":140,"y":33},{"r":"C","c":"C-2053","x":141,"y":27},{"r":"C","c":"C-2053","x":142,"y":22},{"r":"C","c":"C-2053","x":143,"y":16},{"r":"C","c":"C-2053","x":144,"y":12},{"r":"C","c":"C-2053","x":145,"y":9},{"r":"C","c":"C-2053","x":146,"y":6},{"r":"C","c":"C-2053","x":147,"y":4},{"r":"C","c":"C-2053","x":148,"y":2},{"r":"C","c":"C-2053","x":149,"y":1},{"r":"C","c":"C-2053","x":150,"y":0},
{"r":"C","c":"C-2053","x":194,"y":0},{"r":"C","c":"C-2053","x":196,"y":1},{"r":"C","c":"C-2053","x":200,"y":2},{"r":"C","c":"C-2053","x":203,"y":3},{"r":"C","c":"C-2053","x":206,"y":2},{"r":"C","c":"C-2053","x":209,"y":1},{"r":"C","c":"C-2053","x":211,"y":0},

{"r":"M","c":"C-2053","x":0,"y":13},{"r":"M","c":"C-2053","x":1,"y":8},{"r":"M","c":"C-2053","x":2,"y":4},{"r":"M","c":"C-2053","x":3,"y":2},{"r":"M","c":"C-2053","x":4,"y":1},{"r":"M","c":"C-2053","x":5,"y":0},
{"r":"M","c":"C-2053","x":54,"y":0},{"r":"M","c":"C-2053","x":55,"y":2},{"r":"M","c":"C-2053","x":56,"y":7},{"r":"M","c":"C-2053","x":57,"y":12},{"r":"M","c":"C-2053","x":58,"y":19},{"r":"M","c":"C-2053","x":59,"y":28},{"r":"M","c":"C-2053","x":60,"y":39},{"r":"M","c":"C-2053","x":61,"y":45},{"r":"M","c":"C-2053","x":62,"y":51},{"r":"M","c":"C-2053","x":63,"y":62},{"r":"M","c":"C-2053","x":64,"y":62},{"r":"M","c":"C-2053","x":65,"y":95},{"r":"M","c":"C-2053","x":66,"y":151},{"r":"M","c":"C-2053","x":67,"y":151},{"r":"M","c":"C-2053","x":68,"y":174},{"r":"M","c":"C-2053","x":69,"y":151},{"r":"M","c":"C-2053","x":70,"y":95},{"r":"M","c":"C-2053","x":71,"y":62},{"r":"M","c":"C-2053","x":72,"y":39},{"r":"M","c":"C-2053","x":73,"y":22},{"r":"M","c":"C-2053","x":74,"y":13},{"r":"M","c":"C-2053","x":75,"y":6},{"r":"M","c":"C-2053","x":76,"y":2},
{"r":"M","c":"C-2053","x":77,"y":1},{"r":"M","c":"C-2053","x":80,"y":0},{"r":"M","c":"C-2053","x":84,"y":1},{"r":"M","c":"C-2053","x":86,"y":2},{"r":"M","c":"C-2053","x":90,"y":3},{"r":"M","c":"C-2053","x":94,"y":5},{"r":"M","c":"C-2053","x":98,"y":7},{"r":"M","c":"C-2053","x":102,"y":9},{"r":"M","c":"C-2053","x":106,"y":11},{"r":"M","c":"C-2053","x":110,"y":13},{"r":"M","c":"C-2053","x":114,"y":16},{"r":"M","c":"C-2053","x":118,"y":19},{"r":"M","c":"C-2053","x":122,"y":20},{"r":"M","c":"C-2053","x":126,"y":21},
{"r":"M","c":"C-2053","x":128,"y":27},{"r":"M","c":"C-2053","x":130,"y":28},{"r":"M","c":"C-2053","x":131,"y":29},{"r":"M","c":"C-2053","x":132,"y":33},{"r":"M","c":"C-2053","x":133,"y":37},{"r":"M","c":"C-2053","x":134,"y":38},{"r":"M","c":"C-2053","x":135,"y":38},{"r":"M","c":"C-2053","x":136,"y":38},{"r":"M","c":"C-2053","x":137,"y":36},{"r":"M","c":"C-2053","x":138,"y":30},{"r":"M","c":"C-2053","x":139,"y":23},{"r":"M","c":"C-2053","x":140,"y":17},{"r":"M","c":"C-2053","x":141,"y":11},{"r":"M","c":"C-2053","x":142,"y":7},{"r":"M","c":"C-2053","x":143,"y":4},{"r":"M","c":"C-2053","x":144,"y":2},{"r":"M","c":"C-2053","x":145,"y":1},{"r":"M","c":"C-2053","x":146,"y":0},
{"r":"M","c":"C-2053","x":160,"y":0},{"r":"M","c":"C-2053","x":164,"y":1},{"r":"M","c":"C-2053","x":170,"y":2},{"r":"M","c":"C-2053","x":175,"y":1},{"r":"M","c":"C-2053","x":180,"y":2},{"r":"M","c":"C-2053","x":185,"y":2},{"r":"M","c":"C-2053","x":190,"y":3},{"r":"M","c":"C-2053","x":195,"y":3},{"r":"M","c":"C-2053","x":198,"y":4},{"r":"M","c":"C-2053","x":201,"y":4},{"r":"M","c":"C-2053","x":204,"y":3},{"r":"M","c":"C-2053","x":208,"y":2},{"r":"M","c":"C-2053","x":212,"y":1},{"r":"M","c":"C-2053","x":215,"y":0},
{"r":"M","c":"C-2053","x":232,"y":0},{"r":"M","c":"C-2053","x":234,"y":1},{"r":"M","c":"C-2053","x":240,"y":1},{"r":"M","c":"C-2053","x":245,"y":2},{"r":"M","c":"C-2053","x":250,"y":2},{"r":"M","c":"C-2053","x":254,"y":2},

{"s":"h","r":"M","c":"Control","x":203.6,"x2":271,"y":-30.5},
{"s":"h","r":"M","c":"C-2028","x":-1,"x2":271,"y":-30.5},
{"s":"h","r":"M","c":"C-2041","x":-1,"x2":271,"y":-30.5},
{"s":"h","r":"M","c":"C-2045","x":-1,"x2":271,"y":-30.5},
{"s":"h","r":"M","c":"C-2053","x":-1,"x2":254.4,"y":-30.5},
{"s":"v","r":"C","c":"Control","x":-77.7,"y":-12,"y2":240.5},
{"s":"v","r":"M","c":"Control","x":-77.7,"y":117,"y2":238},
{"s":"tc","r":"M","c":"Control","x":-64,"y":-4.9,"t":"Counts"},
{"s":"td","r":"M","c":"Control","x":-19,"y":-44.4,"t":"DNA content"}
]},
"facet":{
 "row":{"field":"r","type":"nominal","sort":["C","M"],"title":null,
  "header":{"labelExpr":"datum.value == 'C' ? 'CCD 841 CoN' : 'MRC-5'","labelAngle":-90,"labelOrient":"left","labelAlign":"center","labelBaseline":"alphabetic","labelPadding":-22,"labelFont":"Liberation Sans","labelFontSize":65,"labelFontWeight":"bold","labelColor":"black"}},
 "column":{"field":"c","type":"nominal","sort":["Control","C-2028","C-2041","C-2045","C-2053"],"title":null,
  "header":{"labelOrient":"top","labelBaseline":"alphabetic","labelPadding":-42,"labelFont":"Liberation Sans","labelFontSize":65,"labelFontWeight":"bold","labelColor":"black"}}
},
"spacing":{"row":23,"column":30.5},
"bounds":"flush",
"resolve":{"axis":{"x":"independent","y":"independent"}},
"spec":{
 "width":481,"height":483,
 "layer":[
  {"transform":[{"filter":"datum.s == null"}],
   "mark":{"type":"area","interpolate":"step","color":"black","clip":true},
   "encoding":{
    "x":{"field":"x","type":"quantitative","title":null,"scale":{"domain":[0,254.4],"nice":false,"zero":false},"axis":{"values":[0,80,160,240,254.4],"tickSize":14,"labels":false,"domain":false,"grid":false,"title":null}},
    "y":{"field":"y","type":"quantitative","title":null,"stack":null,"scale":{"domain":[0,238],"nice":false},"axis":{"values":[0,100,200,238],"tickSize":16,"labels":false,"domain":false,"grid":false,"title":null}}}},
  {"transform":[{"filter":"datum.s == 'h'"}],
   "mark":{"type":"rule","color":"black","strokeWidth":2.5,"clip":false},
   "encoding":{"x":{"field":"x","type":"quantitative","title":null},"x2":{"field":"x2"},"y":{"field":"y","type":"quantitative","title":null}}},
  {"transform":[{"filter":"datum.s == 'v'"}],
   "mark":{"type":"rule","color":"black","strokeWidth":2.5,"clip":false},
   "encoding":{"x":{"field":"x","type":"quantitative","title":null},"y":{"field":"y","type":"quantitative","title":null},"y2":{"field":"y2"}}},
  {"transform":[{"filter":"datum.s == 'tc'"}],
   "mark":{"type":"text","angle":270,"align":"left","baseline":"alphabetic","font":"Liberation Sans","fontSize":65,"fontWeight":"bold","color":"black","clip":false},
   "encoding":{"x":{"field":"x","type":"quantitative","title":null},"y":{"field":"y","type":"quantitative","title":null},"text":{"field":"t"}}},
  {"transform":[{"filter":"datum.s == 'td'"}],
   "mark":{"type":"text","align":"left","baseline":"alphabetic","font":"Liberation Sans","fontSize":65,"fontWeight":"bold","color":"black","clip":false},
   "encoding":{"x":{"field":"x","type":"quantitative","title":null},"y":{"field":"y","type":"quantitative","title":null},"text":{"field":"t"}}}
 ]
},
"config":{
 "view":{"stroke":"#3c3c9c","strokeWidth":2.5},
 "axis":{"tickColor":"#3c3c9c","tickWidth":2.5,"labels":false,"domain":false,"grid":false}
}
}
